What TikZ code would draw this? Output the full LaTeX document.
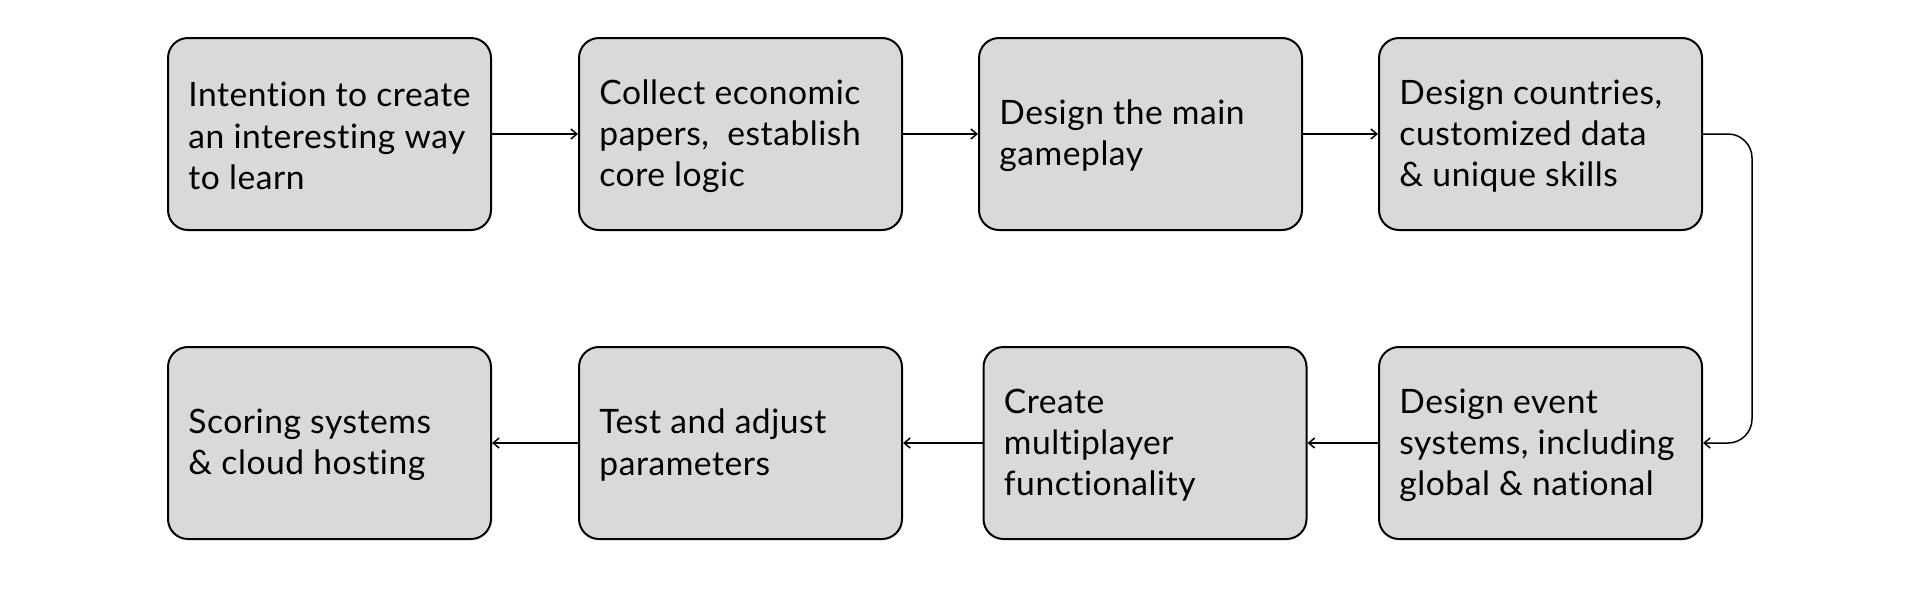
\documentclass[tikz,border=0pt]{standalone}
\usepackage{fontspec}
\setmainfont{Lato}[Ligatures={NoCommon}, LetterSpace=1.6]
\usetikzlibrary{arrows.meta}
\definecolor{boxfill}{HTML}{D9D9D9}
\begin{document}
\begin{tikzpicture}[x=0.5pt,y=-0.5pt,
  box/.style={draw=black, line width=1pt, fill=boxfill, rounded corners=10pt,
    minimum width=161.5pt, minimum height=96pt, inner sep=0pt},
  txt/.style={anchor=west, align=left, inner sep=0pt, font=\fontsize{16.8}{20.6}\selectfont},
  conn/.style={line width=0.75pt, -{Straight Barb[length=3pt,width=5pt]}}]
\useasboundingbox (0,0) rectangle (1920,591);
% row 1
\node[box] (b1) at (329.5,134) {};
\node[box] (b2) at (740.5,134) {};
\node[box] (b3) at (1140.5,134) {};
\node[box] (b4) at (1540.5,134) {};
% row 2
\node[box] (b5) at (1540.5,443) {};
\node[box] (b6) at (1145,443) {};
\node[box] (b7) at (740.5,443) {};
\node[box] (b8) at (329.5,443) {};
% texts
\node[txt] (t1) at ([xshift=10.5pt,yshift=-1pt]b1.west) {Intention to create\\an interesting way\\to learn};
\node[txt] (t2) at ([xshift=10.5pt,yshift=-1pt]b2.west) {Collect economic\\papers,\ \ establish\\core logic};
\node[txt] (t3) at ([xshift=10.5pt,yshift=-1pt]b3.west) {Design the main\\gameplay};
\node[txt] (t4) at ([xshift=10.5pt,yshift=-1pt]b4.west) {Design countries,\\customized data\\\& unique skills};
\node[txt] (t5) at ([xshift=10.5pt,yshift=-1pt]b5.west) {Design event\\systems, including\\global \& national};
\node[txt] (t6) at ([xshift=10.5pt,yshift=-1pt]b6.west) {Create\\multiplayer\\functionality};
\node[txt] (t7) at ([xshift=10.5pt,yshift=-1pt]b7.west) {Test and adjust\\parameters};
\node[txt] (t8) at ([xshift=10.5pt,yshift=-1pt]b8.west) {Scoring systems\\\& cloud hosting};
% connectors
\draw[conn] (b1.east) -- (b2.west);
\draw[conn] (b2.east) -- (b3.west);
\draw[conn] (b3.east) -- (b4.west);
\coordinate (loopx) at (1752,0);
\draw[conn, rounded corners=12pt] (b4.east) -- (b4.east -| loopx) -- (b5.east -| loopx) -- (b5.east);
\draw[conn] (b5.west) -- (b6.east);
\draw[conn] (b6.west) -- (b7.east);
\draw[conn] (b7.west) -- (b8.east);
\end{tikzpicture}
\end{document}
